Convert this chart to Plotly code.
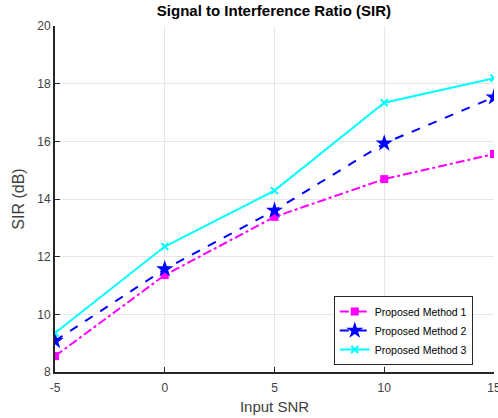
import plotly.graph_objects as go

snr = [-5, 0, 5, 10, 15]
method1 = [8.55, 11.36, 13.38, 14.69, 15.56]
method2 = [9.08, 11.57, 13.60, 15.93, 17.53]
method3 = [9.35, 12.35, 14.29, 17.34, 18.19]
names = ["Proposed Method 1", "Proposed Method 2", "Proposed Method 3"]
x_ticks = [-5, 0, 5, 10, 15]
x_tick_labels = ["-5", "0", "5", "10", "15"]
y_ticks = [8, 10, 12, 14, 16, 18, 20]

fig = go.Figure()
fig.add_trace(go.Scatter(x=snr, y=method1, name=names[0], mode="lines+markers",
                         line=dict(color="#ff00ff", width=2, dash="dashdot"),
                         marker=dict(symbol="square", size=8, color="#ff00ff")))
fig.add_trace(go.Scatter(x=snr, y=method2, name=names[1], mode="lines+markers",
                         line=dict(color="#0000ff", width=2, dash="dash"),
                         marker=dict(symbol="star", size=13, color="#0000ff")))
fig.add_trace(go.Scatter(x=snr, y=method3, name=names[2], mode="lines+markers",
                         line=dict(color="#00ffff", width=2),
                         marker=dict(symbol="x-thin-open", size=7,
                                     line=dict(color="#00ffff", width=2))))

fig.update_layout(
    width=498, height=418,
    margin=dict(l=55, r=4, t=26, b=46, autoexpand=False),
    paper_bgcolor="white", plot_bgcolor="white",
    font=dict(family="Liberation Sans, Arial, sans-serif", size=12, color="#404040"),
    title=dict(text="<b>Signal to Interference Ratio (SIR)</b>", x=0.55, xanchor="center",
               y=0.975, yanchor="middle", font=dict(size=15, color="#000000")),
    xaxis=dict(range=[-5, 15], tickvals=x_ticks, ticktext=x_tick_labels,
               ticklabeloverflow="allow",
               showgrid=True, gridcolor="#e6e6e6",
               zeroline=False, showline=True, linecolor="#262626", linewidth=2,
               ticks="inside", ticklen=5, tickcolor="#262626", ticklabelstandoff=4,
               title=dict(text="Input SNR", standoff=7, font=dict(size=15))),
    yaxis=dict(range=[8, 20], tickvals=y_ticks, showgrid=True, gridcolor="#e6e6e6",
               zeroline=False, showline=True, linecolor="#262626", linewidth=2,
               ticks="inside", ticklen=5, tickcolor="#262626",
               title=dict(text="SIR (dB)", standoff=9, font=dict(size=16))),
    legend=dict(x=0.635, y=0.12, xanchor="left", yanchor="middle",
                bgcolor="white", bordercolor="#262626", borderwidth=1,
                font=dict(size=10.5, color="#000000"), tracegroupgap=0, itemwidth=30),
)
fig.write_html("out.html", config={"displayModeBar": False},
               post_script="document.body.style.margin='0';document.body.style.overflow='hidden';")
